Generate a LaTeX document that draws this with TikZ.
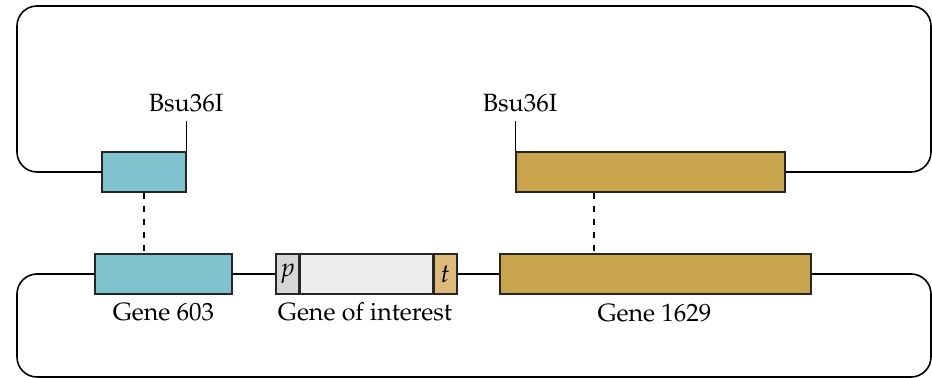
\documentclass[tikz,border=0pt]{standalone}
\usepackage[T1]{fontenc}
\usepackage{mathpazo}
\usetikzlibrary{positioning}

\definecolor{geneblue}{RGB}{126,194,206}
\definecolor{genegold}{RGB}{200,164,76}
\definecolor{promgray}{RGB}{214,214,214}
\definecolor{goilight}{RGB}{236,236,236}
\definecolor{termtan}{RGB}{222,186,122}

\begin{document}
\begin{tikzpicture}[
    x=0.5pt, y=-0.5pt,
    gene/.style={rectangle, draw=black!85, line width=0.7pt, minimum height=20pt, inner sep=0pt, font=\fontsize{13}{14}\selectfont},
    lbl/.style={font=\fontsize{12.5}{14}\selectfont, inner sep=0pt, anchor=base},
    dna/.style={line width=0.8pt, rounded corners=10pt},
    site/.style={line width=0.7pt},
    link/.style={line width=0.7pt, dash pattern=on 3pt off 3.5pt}
]
    \useasboundingbox (0,0) rectangle (932,378);

    % TOP PLASMID: homology arms
    \node (b603t) [gene, fill=geneblue, minimum width=42pt] at (144,172) {};
    \node (g1629t) [gene, fill=genegold, minimum width=134.5pt] at (650.5,172) {};

    % restriction sites
    \node (cut1) [lbl] at (186,112) {Bsu36I};
    \node (cut2) [lbl] at (520,112) {Bsu36I};
    \draw [site] (b603t.north east) -- ++(0,-30);
    \draw [site] (g1629t.north west) -- ++(0,-30);

    % BOTTOM: chromosome with insert
    \node (g603) [gene, fill=geneblue, minimum width=68.5pt] at (163.5,274) {};
    \node (prom) [gene, fill=promgray, minimum width=11.5pt] at (287.5,274) {$p$};
    \node (goi) [gene, fill=goilight, minimum width=66pt, right=0pt of prom] {};
    \node (term) [gene, fill=termtan, minimum width=11.5pt, right=0pt of goi] {$t$};
    \node (g1629) [gene, fill=genegold, minimum width=155.5pt] at (655.5,274) {};

    \node (l603) [lbl] at (163.5,321) {Gene 603};
    \node (lgoi) [lbl] at (365,321) {Gene of interest};
    \node (l1629) [lbl] at (654.5,322) {Gene 1629};

    % backbone lines
    \draw [dna] (b603t.west) -- (17,172) -- (17,6) -- (931,6) -- (931,172) -- (g1629t.east);
    \draw [dna] (g603.west) -- (17,274) -- (17,377) -- (931,377) -- (931,274) -- (g1629.east);
    \draw [dna] (g603.east) -- (prom.west);
    \draw [dna] (term.east) -- (g1629.west);

    % homology links
    \draw [link] (b603t.south) -- (b603t.south |- g603.north);
    \draw [link] ([xshift=-28.25pt]g1629t.south) -- ([xshift=-28.25pt]g1629t.south |- g1629.north);

\end{tikzpicture}
\end{document}
